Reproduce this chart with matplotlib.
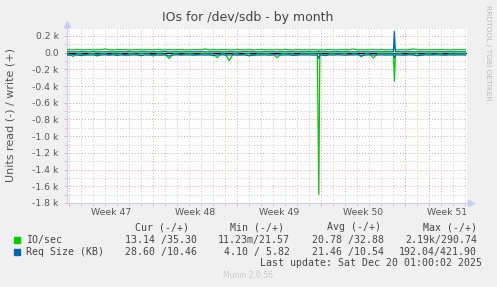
import matplotlib
matplotlib.use("Agg")
import matplotlib.pyplot as plt
import matplotlib.dates as mdates
import matplotlib.transforms as mtransforms
from matplotlib.patches import Rectangle
import pandas as pd

# samples every 8 hours, read values are drawn below zero
times = pd.date_range("2025-11-16 16:00", periods=101, freq="8h")

io_write = [34, 36, 33, 38, 35, 34, 37, 33, 36, 35,
            44, 34, 33, 36, 35, 37, 33, 34, 36, 35,
            33, 36, 34, 38, 35, 33, 36, 34, 35, 37,
            34, 33, 36, 35, 34, 45, 33, 36, 34, 35,
            36, 34, 33, 37, 35, 34, 36, 33, 35, 38,
            34, 35, 33, 36, 34, 37, 35, 33, 36, 34,
            35, 33, 36, 34, 34, 35, 37, 33, 34, 36,
            35, 34, 44, 33, 36, 34, 35, 37, 33, 36,
            34, 35, 35, 34, 36, 33, 35, 44, 34, 36,
            35, 33, 37, 34, 36, 35, 33, 34, 36, 35,
            35]
io_read = [14, 18, 45, 13, 16, 30, 14, 13, 22, 15,
           13, 28, 14, 17, 13, 35, 15, 14, 19, 13,
           16, 14, 40, 13, 15, 18, 70, 14, 13, 25,
           15, 13, 17, 30, 14, 13, 16, 14, 60, 13,
           15, 95, 14, 13, 28, 15, 13, 35, 14, 16,
           13, 15, 22, 60, 14, 13, 17, 14, 30, 13,
           15, 14, 13, 15, 16, 30, 14, 13, 18, 15,
           13, 25, 14, 16, 50, 13, 15, 63, 14, 13,
           16, 14, 15, 15, 13, 28, 14, 16, 13, 35,
           14, 13, 20, 15, 14, 30, 13, 16, 14, 15,
           13]
req_write = [10, 11, 9, 10, 12, 10, 9, 11, 10, 10,
             11, 10, 9, 10, 11, 10, 12, 9, 10, 11,
             10, 9, 11, 10, 10, 12, 9, 10, 11, 10,
             9, 10, 11, 10, 12, 9, 10, 10, 11, 9,
             10, 11, 10, 9, 10, 12, 10, 11, 9, 10,
             11, 10, 10, 9, 11, 10, 12, 10, 9, 10,
             10, 11, 9, 10, 10, 11, 10, 9, 12, 10,
             11, 10, 9, 10, 11, 10, 10, 12, 9, 10,
             11, 10, 10, 12, 10, 9, 11, 10, 10, 11,
             10, 9, 11, 10, 12, 10, 10, 9, 11, 10,
             10]
req_read = [27, 30, 24, 28, 35, 26, 29, 27, 38, 28,
            26, 29, 27, 33, 28, 25, 30, 27, 28, 36,
            27, 29, 26, 28, 30, 27, 40, 28, 26, 29,
            28, 27, 31, 26, 28, 29, 27, 35, 28, 26,
            29, 28, 27, 30, 26, 28, 38, 27, 29, 28,
            27, 30, 28, 26, 29, 28, 27, 33, 28, 26,
            28, 27, 30, 28, 28, 35, 27, 29, 26, 28,
            30, 27, 28, 26, 34, 28, 27, 29, 28, 27,
            29, 28, 27, 27, 30, 28, 26, 29, 37, 28,
            27, 29, 28, 26, 30, 28, 27, 29, 28, 27,
            29]

# two short bursts, sampled more finely
burst_times = pd.to_datetime(["2025-12-07 19:00", "2025-12-07 21:00",
                              "2025-12-14 02:00", "2025-12-14 04:00"])
burst_io_write = [30, 34, 90, 35]
burst_io_read = [1700, 14, 344, 15]
burst_req_write = [14, 10, 255, 11]
burst_req_read = [70, 28, 60, 28]

week_labels = ["Week 47", "Week 48", "Week 49", "Week 50", "Week 51"]
week_starts = pd.date_range("2025-11-17", periods=5, freq="7D")

legend_names = ["IO/sec", "Req Size (KB)"]
cur_vals = ["13.14 /35.30", "28.60 /10.46"]
min_vals = ["11.23m/21.57", " 4.10 / 5.82"]
avg_vals = ["20.78 /32.88", "21.46 /10.54"]
max_vals = ["2.19k/290.74", "192.04/421.90"]

GREEN = "#00cc00"
BLUE = "#0066b3"
W, H = 497, 287


def series(base, burst):
    s = pd.concat([pd.Series(base, index=times), pd.Series(burst, index=burst_times)])
    return s.sort_index()


fig = plt.figure(figsize=(W / 100, H / 100), dpi=100, facecolor="#f0f0f0")
ax = fig.add_axes([67 / W, 84 / H, 400 / W, 175.4 / H])
ax.set_facecolor("white")

s = series(io_write, burst_io_write)
ax.plot(s.index, s.values, color=GREEN, lw=0.9, zorder=4)
s = series(io_read, burst_io_read)
ax.plot(s.index, -s.values, color=GREEN, lw=0.9, zorder=4)
s = series(req_write, burst_req_write)
ax.plot(s.index, s.values, color=BLUE, lw=0.9, zorder=5)
s = series(req_read, burst_req_read)
ax.plot(s.index, -s.values, color=BLUE, lw=0.9, zorder=5)
ax.axhline(0, color="#000000", lw=0.9, zorder=3)

ax.set_xlim(pd.Timestamp("2025-11-16 20:00"), pd.Timestamp("2025-12-20 03:00"))
ax.set_ylim(-1800, 300)

ax.xaxis.set_major_locator(mdates.DayLocator(bymonthday=[17, 24, 1, 8, 15]))
ax.xaxis.set_minor_locator(mdates.DayLocator())
ax.xaxis.set_major_formatter(plt.NullFormatter())
ax.set_yticks(range(-1800, 201, 200))
ax.set_yticks(range(-1700, 301, 200), minor=True)
ax.set_yticklabels(["0.0" if v == 0 else "%.1f k" % (v / 1000) for v in range(-1800, 201, 200)])

ax.grid(which="minor", color="#c8c8c8", ls=(0, (1, 2)), lw=0.7)
ax.grid(which="major", color="#e8a0a0", ls=(0, (1, 2)), lw=0.7)
ax.tick_params(which="both", length=2, width=0.6)
ax.tick_params(which="major", color="#e8a0a0")
ax.tick_params(which="minor", color="#c8c8c8")
ax.tick_params(axis="y", labelsize=6.7, labelcolor="#555555", pad=4)

for sp in ["top", "right"]:
    ax.spines[sp].set_visible(False)
for sp in ["left", "bottom"]:
    ax.spines[sp].set_color("#c8cdf0")
    ax.spines[sp].set_linewidth(0.8)
ax.plot([0], [1.02], marker="^", ms=4, color="#c8cdf0", transform=ax.transAxes, clip_on=False)
ax.plot([1.01], [0], marker=">", ms=4, color="#c8cdf0", transform=ax.transAxes, clip_on=False)

trans = mtransforms.blended_transform_factory(ax.transData, ax.transAxes)
for start, lab in zip(week_starts, week_labels):
    ax.text(start + pd.Timedelta(hours=84), -0.055, lab, transform=trans,
            ha="center", va="center", fontsize=6.7, color="#555555")


def ftext(x, y, txt, **kw):
    fig.text(x / W, 1 - y / H, txt, **kw)


ftext(248, 18, "IOs for /dev/sdb - by month", ha="center", va="center", fontsize=9, color="#444444")
ftext(11, 115, "Units read (-) / write (+)", rotation=90, ha="center", va="center", fontsize=8, color="#555555")
ftext(488, 53, "RRDTOOL / TOBI OETIKER", rotation=270, ha="center", va="center", fontsize=5.4, color="#b8b8b8")

mono = dict(family="DejaVu Sans Mono", fontsize=7.1, color="#444444", va="center")
ftext(134.7, 227.5, "Cur (-/+)", ha="left", **mono)
ftext(230, 227.5, "Min (-/+)", ha="left", **mono)
ftext(327, 227.5, "Avg (-/+)", ha="left", **mono)
ftext(423, 227.5, "Max (-/+)", ha="left", **mono)

for i, (name, color) in enumerate(zip(legend_names, [GREEN, BLUE])):
    y = 240 + i * 11.7
    fig.patches.append(Rectangle((14 / W, 1 - (y + 3) / H), 6 / W, 6 / H,
                                 transform=fig.transFigure, color=color))
    ftext(26, y, name, ha="left", **mono)
    ftext(125, y, cur_vals[i], ha="left", **mono)
    ftext(218, y, min_vals[i], ha="left", **mono)
    ftext(312, y, avg_vals[i], ha="left", **mono)
    ftext(477, y, max_vals[i], ha="right", **mono)

ftext(482, 263.3, "Last update: Sat Dec 20 01:00:02 2025", ha="right", **mono)
ftext(248, 276, "Munin 2.0.56", ha="center", va="center", fontsize=5.5, color="#c8c8c8")

fig.savefig("out.png", dpi=100, facecolor=fig.get_facecolor())
